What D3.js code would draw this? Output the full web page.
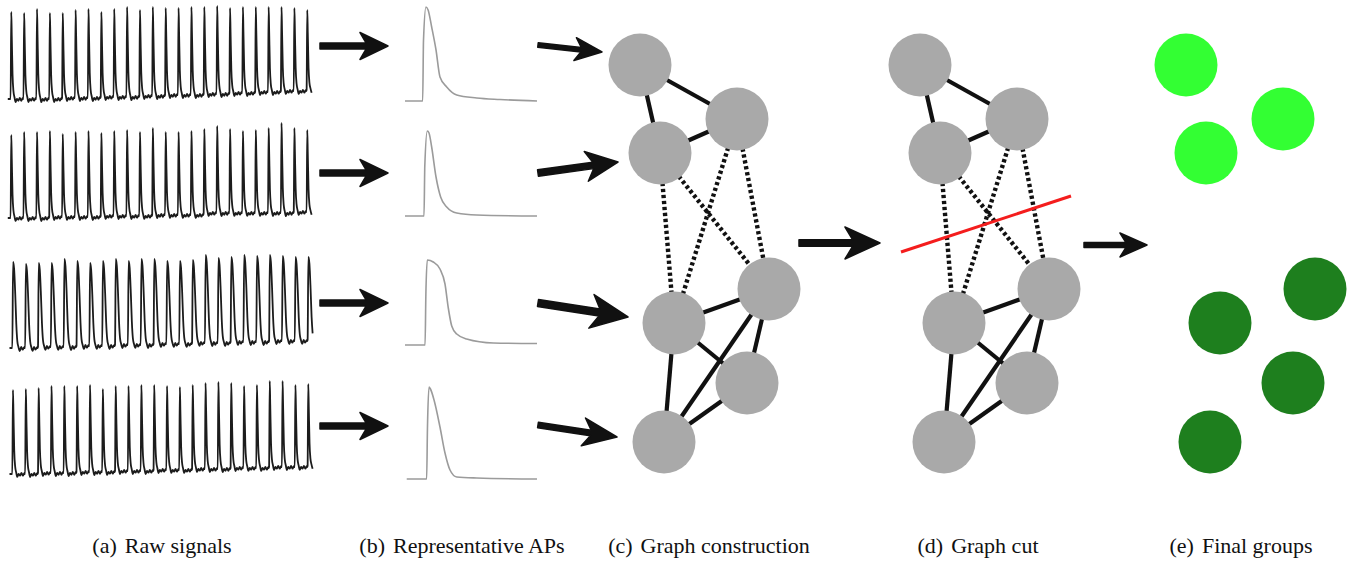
<!DOCTYPE html>
<html>
<head>
<meta charset="utf-8">
<script src="https://cdn.jsdelivr.net/npm/d3@7"></script>
<style>
  html, body { margin: 0; padding: 0; background: #fff; }
  svg { display: block; }
  .caption { font-family: "Liberation Serif", "Times New Roman", Times, serif; font-size: 22px; fill: #111; }
</style>
</head>
<body>
<svg id="fig" width="1355" height="562"></svg>
<script>
// ---------------- data ----------------
const captionTags  = ["(a)", "(b)", "(c)", "(d)", "(e)"];
const captionTexts = ["Raw signals", "Representative APs", "Graph construction", "Graph cut", "Final groups"];

// Raw recordings: 24 paced beats per cell; peak level and resting level of every beat
// (row units, 0 = floor of the row strip)
const rawPeaks1 = [90, 89, 93, 89, 89, 92, 93, 90, 93, 95, 92, 95, 94, 94, 95, 95, 96, 94, 95, 95, 95, 95, 94, 92];
const rawPeaks2 = [85, 88, 88, 89, 86, 88, 89, 87, 89, 90, 88, 92, 88, 88, 89, 91, 94, 91, 89, 90, 92, 97, 92, 90];
const rawPeaks3 = [88, 86, 87, 87, 91, 89, 87, 89, 91, 89, 91, 91, 89, 89, 90, 95, 92, 93, 95, 94, 95, 94, 93, 93];
const rawPeaks4 = [86, 87, 88, 90, 90, 90, 91, 87, 90, 90, 91, 91, 90, 89, 91, 93, 94, 93, 90, 91, 95, 95, 91, 92];
const rawRest1  = [3, 3, 3, 3, 4, 4, 4, 5, 5, 5, 6, 6, 7, 7, 7, 8, 8, 9, 9, 10, 10, 11, 11, 12];
const rawRest2  = [2, 2, 2, 3, 3, 3, 3, 4, 4, 4, 4, 5, 5, 5, 5, 7, 7, 7, 7, 7, 7, 7, 8, 8];
const rawRest3  = [2, 2, 3, 3, 3, 4, 4, 4, 5, 5, 5, 6, 6, 6, 7, 7, 7, 8, 8, 8, 9, 9, 9, 10];
const rawRest4  = [2, 2, 3, 3, 3, 4, 4, 4, 5, 5, 5, 6, 6, 6, 7, 7, 7, 8, 8, 8, 9, 9, 9, 10];

// Beat waveform used in the raw traces (phase within one beat, fraction of beat amplitude)
const beatPhase  = [-0.03, 0.02, 0.06, 0.12, 0.19, 0.27, 0.36, 0.46, 0.57, 0.68, 0.80, 0.90, 0.95];
const beatShape  = [0, 1.0, 0.72, 0.28, 0.09, 0.02, -0.035, 0.0, -0.02, 0.012, -0.02, 0.01, 0];
const beatPhaseWide = [-0.03, 0.03, 0.11, 0.20, 0.28, 0.36, 0.45, 0.55, 0.66, 0.78, 0.90, 0.95];
const beatShapeWide = [0, 1.0, 0.92, 0.62, 0.28, 0.08, 0.01, -0.035, 0.012, -0.02, 0.01, 0];

// Representative action potentials (time 0-100, level 0-100 above rest)
const apTime1 = [0, 13.4, 14.0, 15.9, 17.5, 20.2, 23.5, 26.5, 31.6, 39.2, 54.3, 72, 100];
const apVolt1 = [0, 0, 60, 94, 91, 74, 51, 24, 14, 6, 3, 1.5, 0];
const apTime2 = [0, 14.4, 15.0, 16.9, 18.2, 20.2, 23.5, 27.0, 31.6, 39.2, 54.3, 100];
const apVolt2 = [0, 0, 50, 85, 83, 69, 39, 19, 9, 3, 1, 0];
const apTime3 = [0, 15.2, 15.8, 16.9, 21.4, 26.5, 30.3, 32.8, 35.4, 39.2, 46.7, 66.9, 100];
const apVolt3 = [0, 0, 50, 85, 83, 76, 61, 37, 19, 11, 6, 2, 1.5];
const apTime4 = [1.3, 16.4, 17.0, 18.2, 19.3, 22.0, 26.5, 30.3, 34.1, 39.2, 54.3, 100];
const apVolt4 = [0, 0, 50, 92, 90, 79, 52, 26, 9, 2, 1, 0];

// Similarity graph: node placement (panel units), cluster of each node, edges
const nodeX = [0, 97, 20, 129, 34, 107, 24];
const nodeY = [0, 54, 88, 224, 258, 318, 377];
const nodeGroup = [0, 0, 0, 1, 1, 1, 1];
const edgeFrom = [0, 0, 2, 4, 4, 6, 6, 6, 3, 2, 1, 2, 1];
const edgeTo   = [1, 2, 1, 3, 5, 4, 3, 5, 5, 4, 4, 3, 3];
const groupColors = ["#33ff33", "#1e7f1e"];

// ---------------- layout ----------------
const svg = d3.select("#fig");
const rawFloor = [102, 220, 350, 476];
const apFloor  = [101, 216, 345, 479];
const graphOrigin = { c: [640, 65], d: [920, 65], e: [1186, 65] };
const nodeR = 31.5;

const ink = "#111";

// ---------- (a) raw signals ----------
const rawRows = [
  { peaks: rawPeaks1, rest: rawRest1, phase: beatPhase, shape: beatShape, x0: 11, x1: 307 },
  { peaks: rawPeaks2, rest: rawRest2, phase: beatPhase, shape: beatShape, x0: 11, x1: 307 },
  { peaks: rawPeaks3, rest: rawRest3, phase: beatPhaseWide, shape: beatShapeWide, x0: 12.7, x1: 308 },
  { peaks: rawPeaks4, rest: rawRest4, phase: beatPhase, shape: beatShape, x0: 12.7, x1: 308 }
];

rawRows.forEach((row, r) => {
  const n = row.peaks.length;
  const x = d3.scaleLinear().domain([0, n - 1]).range([row.x0, row.x1]);
  const y = d3.scaleLinear().domain([0, 100]).range([rawFloor[r], rawFloor[r] - 100]);
  const pts = [[-0.25, row.rest[0]]];
  row.peaks.forEach((pk, i) => {
    const base = row.rest[i];
    row.phase.forEach((ph, k) => {
      if (i === n - 1 && ph > 0.4) return;
      pts.push([i + ph, base + row.shape[k] * (pk - base)]);
    });
  });
  svg.append("path")
    .attr("d", d3.line().x(d => x(d[0])).y(d => y(d[1])).curve(d3.curveMonotoneX)(pts))
    .attr("fill", "none")
    .attr("stroke", "#1c1c1c")
    .attr("stroke-width", 1.8)
    .attr("stroke-linejoin", "round");
});

// ---------- (b) representative APs ----------
const apX = d3.scaleLinear().domain([0, 100]).range([405, 537]);
[[apTime1, apVolt1], [apTime2, apVolt2], [apTime3, apVolt3], [apTime4, apVolt4]].forEach(([t, v], r) => {
  const y = d3.scaleLinear().domain([0, 100]).range([apFloor[r], apFloor[r] - 100]);
  svg.append("path")
    .attr("d", d3.line().x(d => apX(d[0])).y(d => y(d[1])).curve(d3.curveMonotoneX)(t.map((ti, i) => [ti, v[i]])))
    .attr("fill", "none")
    .attr("stroke", "#9b9b9b")
    .attr("stroke-width", 1.6);
});

// ---------- arrows ----------
function arrow(x1, y1, x2, y2, L, W, T) {
  const len = Math.hypot(x2 - x1, y2 - y1);
  const ang = Math.atan2(y2 - y1, x2 - x1) * 180 / Math.PI;
  const p = d3.path();
  p.moveTo(0, -T / 2);
  p.lineTo(len - L * 0.78, -T / 2);
  p.lineTo(len - L, -W);
  p.lineTo(len, 0);
  p.lineTo(len - L, W);
  p.lineTo(len - L * 0.78, T / 2);
  p.lineTo(0, T / 2);
  p.closePath();
  svg.append("path")
    .attr("d", p.toString())
    .attr("transform", `translate(${x1},${y1}) rotate(${ang})`)
    .attr("fill", ink)
    .attr("stroke", ink)
    .attr("stroke-width", 1.5)
    .attr("stroke-linejoin", "round");
}
const arrowsAB = [46, 173, 303, 426];
arrowsAB.forEach(yy => arrow(320, yy, 388, yy, 28, 13.5, 6));
arrow(538, 45, 602, 52, 27, 11.5, 4.5);
arrow(538, 173, 618, 162, 32, 15, 6.5);
arrow(538, 303, 628, 317, 37, 17, 7);
arrow(538, 425, 617, 437, 34, 14, 5.5);
arrow(799, 243, 880, 243, 35, 16, 6.5);
arrow(1084, 245, 1147, 245, 27, 12, 5);

// ---------- graphs ----------
function drawGraph(origin, opts) {
  const gx = d3.scaleLinear().domain([0, 100]).range([origin[0], origin[0] + 100]);
  const gy = d3.scaleLinear().domain([0, 100]).range([origin[1], origin[1] + 100]);
  const g = svg.append("g");
  if (opts.edges) {
    edgeFrom.forEach((a, i) => {
      const b = edgeTo[i];
      const cut = nodeGroup[a] !== nodeGroup[b];
      g.append("line")
        .attr("x1", gx(nodeX[a])).attr("y1", gy(nodeY[a]))
        .attr("x2", gx(nodeX[b])).attr("y2", gy(nodeY[b]))
        .attr("stroke", ink)
        .attr("stroke-width", cut ? 4.4 : 4.2)
        .attr("stroke-dasharray", cut ? "3.3 2.7" : null);
    });
  }
  if (opts.cut) {
    g.append("line")
      .attr("x1", gx(-19)).attr("y1", gy(187))
      .attr("x2", gx(151)).attr("y2", gy(131))
      .attr("stroke", "#f41d1d")
      .attr("stroke-width", 3);
  }
  g.selectAll("circle.node")
    .data(nodeX.map((d, i) => i))
    .join("circle")
    .attr("class", "node")
    .attr("cx", i => gx(nodeX[i]))
    .attr("cy", i => gy(nodeY[i]))
    .attr("r", nodeR)
    .attr("fill", i => opts.colored ? groupColors[nodeGroup[i]] : "#a9a9a9");
}
drawGraph(graphOrigin.c, { edges: true });
drawGraph(graphOrigin.d, { edges: true, cut: true });
drawGraph(graphOrigin.e, { colored: true });

// ---------- captions ----------
const captionX = [162, 462, 709, 978, 1241];
captionTags.forEach((tag, i) => {
  const t = svg.append("text")
    .attr("class", "caption")
    .attr("x", captionX[i])
    .attr("y", 553)
    .attr("text-anchor", "middle");
  t.append("tspan").text(tag);
  t.append("tspan").attr("dx", 8).text(captionTexts[i]);
});
</script>
</body>
</html>
